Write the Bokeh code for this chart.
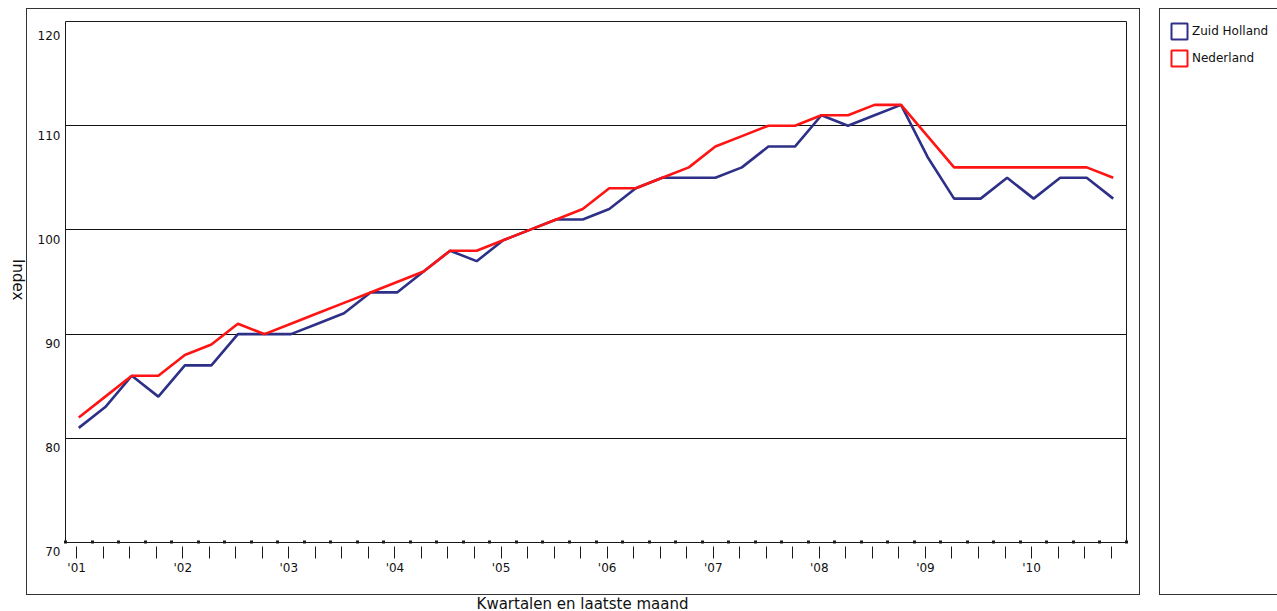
from bokeh.plotting import figure
from bokeh.models import (Range1d, FixedTicker, Legend, LegendItem, ColumnDataSource,
                          Div, Spacer)
from bokeh.layouts import row, column
from bokeh.embed import file_html
from bokeh.resources import INLINE

# ---------------- data ----------------
year_labels = ["'01", "'02", "'03", "'04", "'05", "'06", "'07", "'08", "'09", "'10"]
quarters = [f"{2001 + i // 4}-Q{i % 4 + 1}" for i in range(40)]
zuid_holland = [81, 83, 86, 84, 87, 87, 90, 90, 90, 91, 92, 94, 94, 96, 98, 97,
                99, 100, 101, 101, 102, 104, 105, 105, 105, 106, 108, 108,
                111, 110, 111, 112, 107, 103, 103, 105, 103, 105, 105, 103]
nederland = [82, 84, 86, 86, 88, 89, 91, 90, 91, 92, 93, 94, 95, 96, 98, 98,
             99, 100, 101, 102, 104, 104, 105, 106, 108, 109, 110, 110,
             111, 111, 112, 112, 109, 106, 106, 106, 106, 106, 106, 105]
y_ticks = [70, 80, 90, 100, 110, 120]
grid_values = [80, 90, 100, 110]
series_names = ["Zuid Holland", "Nederland"]
x_title = "Kwartalen en laatste maand"
y_title = "Index"

NAVY = "#2E3087"
RED = "#FF1414"
FONT = "DejaVu Sans"
BOX = "1px solid #333333"

n = len(quarters)
xs = [i + 0.5 for i in range(n)]
src = ColumnDataSource(dict(x=xs, q=quarters, zh=zuid_holland, nl=nederland))

# ---------------- main chart (inside its bordered box) ----------------
p = figure(width=1112, height=585, output_backend="svg", toolbar_location=None,
           x_range=Range1d(0, n), y_range=Range1d(70, 120),
           min_border_left=38, min_border_right=13, min_border_top=12, min_border_bottom=52,
           background_fill_color="white", border_fill_color="white", margin=0)
p.styles = {"outline": BOX}
p.outline_line_color = "#1a1a1a"
p.outline_line_width = 1

p.xgrid.visible = False
p.ygrid.ticker = FixedTicker(ticks=grid_values)
p.ygrid.grid_line_color = "#111111"
p.ygrid.grid_line_width = 1

# x axis: quarter ticks, dots at category boundaries, year labels
tick_pos = [i + 0.42 for i in range(n)]
xa = p.xaxis[0]
xa.ticker = FixedTicker(ticks=tick_pos, minor_ticks=list(range(n + 1)))
xa.major_label_overrides = {t: (year_labels[i // 4] if i % 4 == 0 else "") for i, t in enumerate(tick_pos)}
xa.axis_line_color = "#1a1a1a"
xa.major_tick_in = -4
xa.major_tick_out = 16
xa.major_tick_line_color = "#1a1a1a"
xa.major_tick_line_width = 1
xa.minor_tick_in = 2
xa.minor_tick_out = 1
xa.minor_tick_line_width = 3
xa.minor_tick_line_color = "#1a1a1a"
xa.major_label_standoff = 2
xa.major_label_text_font = FONT
xa.major_label_text_font_size = "12px"
xa.major_label_text_color = "#111111"

# y axis: labels sit just below their gridlines
ya = p.yaxis[0]
ya.ticker = FixedTicker(ticks=y_ticks)
ya.major_label_overrides = {v: "\n" + str(v) for v in y_ticks}
ya.major_label_text_line_height = 1.4
ya.axis_line_color = None
ya.major_tick_line_color = None
ya.minor_tick_line_color = None
ya.major_tick_in = 0
ya.major_tick_out = 0
ya.major_label_standoff = 5
ya.major_label_text_font = FONT
ya.major_label_text_font_size = "12px"
ya.major_label_text_color = "#111111"

p.line("x", "zh", source=src, line_color=NAVY, line_width=2.6)
p.line("x", "nl", source=src, line_color=RED, line_width=2.6)

# ---------------- legend box ----------------
lg = figure(width=117, height=585, output_backend="svg", toolbar_location=None,
            x_range=Range1d(0, n), y_range=Range1d(70, 120),
            x_axis_location=None, y_axis_location=None,
            min_border_left=9, min_border_right=0, min_border_top=0, min_border_bottom=0,
            background_fill_color="white", border_fill_color="white", margin=0)
lg.styles = {"outline": BOX}
lg.outline_line_color = None
lg.grid.visible = False
q1 = lg.quad(left="x", right="x", bottom="zh", top="zh", source=src,
             fill_color="white", line_color=NAVY, line_width=2, visible=False)
q2 = lg.quad(left="x", right="x", bottom="nl", top="nl", source=src,
             fill_color="white", line_color=RED, line_width=2, visible=False)
legend = Legend(items=[LegendItem(label=series_names[0], renderers=[q1]),
                       LegendItem(label=series_names[1], renderers=[q2])],
                location="top_left", orientation="vertical",
                glyph_width=20, glyph_height=20, label_height=20, spacing=7,
                padding=0, margin=0, label_standoff=3,
                border_line_color=None, background_fill_alpha=0,
                label_text_font=FONT, label_text_font_size="12px",
                label_text_color="#111111", click_policy="none")
lg.add_layout(legend)

# ---------------- axis titles outside the box ----------------
index_div = Div(width=27, height=585, margin=0,
                text=('<div style="writing-mode:vertical-rl;font-family:\'DejaVu Sans\';'
                      'font-size:15px;line-height:15px;width:15px;margin-left:10px;'
                      'padding-top:250px;color:#111111;">' + y_title + '</div>'))
title_div = Div(width=1165, height=17, margin=0,
                text=('<div style="width:1165px;text-align:center;font-family:\'DejaVu Sans\';'
                      'font-size:15px;line-height:17px;padding-top:2px;white-space:nowrap;color:#111111;">'
                      + x_title + '</div>'))

layout = column(
    Spacer(width=1277, height=9, margin=0),
    row(index_div, p, Spacer(width=21, height=585, margin=0), lg, spacing=0, margin=0),
    title_div,
    spacing=0, margin=0,
)

open("out.html", "w").write(file_html(layout, INLINE))
